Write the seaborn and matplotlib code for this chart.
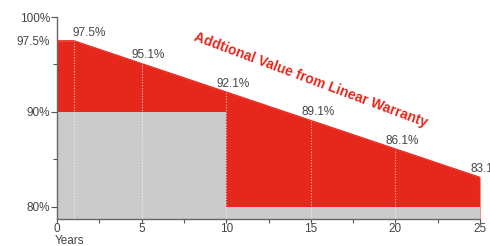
import matplotlib
matplotlib.use("Agg")
import matplotlib.pyplot as plt
import seaborn as sns
import pandas as pd
import numpy as np

years = [0, 1, 5, 10, 15, 20, 25]
linear_warranty = [97.5, 97.5, 95.1, 92.1, 89.1, 86.1, 83.1]
step_years = [0, 10, 10, 25]
step_warranty = [90, 90, 80, 80]
label_years = [1, 5, 10, 15, 20, 25]
label_values = [97.5, 95.1, 92.1, 89.1, 86.1, 83.1]
y_tick_values = [80, 90, 97.5, 100]
y_tick_labels = ["80%", "90%", "97.5%", "100%"]
x_tick_values = [0, 5, 10, 15, 20, 25]
annotation = "Addtional Value from Linear Warranty"

RED = "#e5271c"
GRAY = "#cbcbcb"
TXT = "#444444"

sns.set_theme(style="white")
plt.rcParams["font.family"] = ["Liberation Sans", "DejaVu Sans"]

fig = plt.figure(figsize=(4.9, 2.46), dpi=100)
ax = fig.add_axes([57/490, 1 - 219/246, (480-57)/490, (219-17)/246])

ymin, ymax = 78.7, 100
df_line = pd.DataFrame({"year": years, "value": linear_warranty})
df_step = pd.DataFrame({"year": step_years, "value": step_warranty})

ax.fill_between(df_line["year"], ymin, df_line["value"], color=RED, lw=0, zorder=1)
ax.fill_between(df_step["year"], ymin, df_step["value"], color=GRAY, lw=0, zorder=2)
sns.lineplot(data=df_line, x="year", y="value", ax=ax, color=RED, lw=0.8, zorder=3)

for xv, yv in zip(label_years, label_values):
    ax.plot([xv, xv], [ymin, yv], color="white", lw=0.8, ls=(0, (1, 1.5)), alpha=0.7, zorder=4)

for i, (xv, yv) in enumerate(zip(label_years, label_values)):
    dx = -1 if i == 0 else -7
    ax.annotate(f"{yv:.1f}%", (xv, yv), xytext=(dx, 1.5), textcoords="offset points",
                ha="left", va="bottom", fontsize=8.5, color=TXT, annotation_clip=False, zorder=5)

ax.set_xlim(0, 25)
ax.set_ylim(ymin, ymax)
ax.set_xticks(x_tick_values)
ax.set_xticklabels([str(v) for v in x_tick_values], fontsize=8.5, color=TXT)
ax.set_xticks([2.5, 7.5, 12.5, 17.5, 22.5], minor=True)
ax.set_yticks(y_tick_values)
ax.set_yticklabels(y_tick_labels, fontsize=8.5, color=TXT)
ax.set_yticks([85, 95], minor=True)
ax.tick_params(axis="both", which="both", direction="out", length=3, width=0.8,
               color="#555555", pad=1, bottom=True, left=True)
ax.tick_params(axis="x", which="major", pad=0)
ax.tick_params(axis="y", which="major", length=4)
ax.yaxis.get_major_ticks()[2].tick1line.set_visible(False)

for s in ["top", "right"]:
    ax.spines[s].set_visible(False)
for s in ["left", "bottom"]:
    ax.spines[s].set_color("#666666")
    ax.spines[s].set_linewidth(1.0)
ax.set_xlabel("")
ax.set_ylabel("")

fig.text(55/490, 2.0/246, "Years", fontsize=8.5, color=TXT, ha="left", va="baseline")

fig.text(311/490, 1 - 80/246, annotation, fontsize=10, fontweight="bold", color=RED,
         rotation=-20.5, ha="center", va="center", rotation_mode="anchor")

fig.savefig("out.png", dpi=100)
